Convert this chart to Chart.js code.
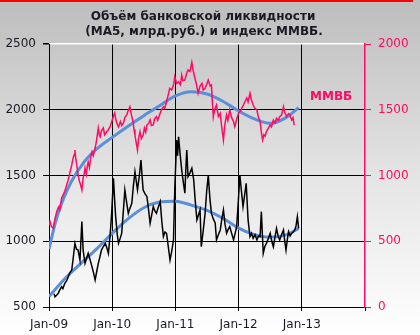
<!DOCTYPE html>
<html>
<head>
<meta charset="utf-8">
<script src="https://cdn.jsdelivr.net/npm/chart.js@4"></script>
<style>
html,body{margin:0;padding:0;background:#fff;}
#wrap{width:420px;height:335px;position:relative;}
</style>
</head>
<body>
<div id="wrap"><canvas id="c" width="420" height="335"></canvas></div>
<script>
// ---- DATA (t = years since Jan-2009) ----
const xTickLabels = ['Jan-09','Jan-10','Jan-11','Jan-12','Jan-13'];
const titleLines = ['Объём банковской ликвидности','(MA5, млрд.руб.) и индекс ММВБ.'];
const seriesLabel = 'ММВБ';

const micexT = [0.00,0.016,0.04,0.068,0.09,0.11,0.122,0.15,0.17,0.20,0.22,0.25,0.28,0.30,0.33,0.36,0.38,0.40,0.41,0.425,0.44,0.46,0.48,0.50,0.52,0.54,0.56,0.57,0.59,0.61,0.62,0.64,0.66,0.68,0.70,0.73,0.75,0.78,0.80,0.81,0.83,0.86,0.88,0.91,0.94,0.965,1.00,1.02,1.04,1.06,1.08,1.10,1.13,1.15,1.18,1.20,1.23,1.25,1.28,1.30,1.33,1.345,1.36,1.38,1.40,1.42,1.44,1.46,1.49,1.51,1.53,1.55,1.58,1.60,1.62,1.65,1.67,1.70,1.72,1.76,1.78,1.81,1.83,1.86,1.88,1.91,1.94,1.97,1.99,2.02,2.05,2.08,2.10,2.12,2.15,2.18,2.20,2.23,2.26,2.28,2.31,2.33,2.36,2.39,2.42,2.44,2.47,2.50,2.52,2.55,2.57,2.585,2.60,2.62,2.65,2.68,2.71,2.73,2.76,2.78,2.81,2.83,2.86,2.89,2.92,2.94,2.97,3.00,3.03,3.05,3.08,3.10,3.13,3.15,3.18,3.20,3.23,3.26,3.29,3.31,3.34,3.36,3.38,3.40,3.42,3.44,3.47,3.50,3.52,3.55,3.58,3.60,3.63,3.65,3.68,3.71,3.73,3.76,3.79,3.81,3.84,3.86,3.88];
const micexV = [620,649,610,600,660,700,725,760,740,829,850,880,928,960,1020,1080,1130,1160,1194,1120,1080,1004,960,930,890,980,1020,1057,1010,1080,1103,1060,1140,1179,1150,1209,1260,1361,1300,1293,1340,1361,1310,1331,1350,1369,1420,1450,1475,1420,1390,1369,1410,1380,1399,1440,1460,1490,1523,1470,1409,1350,1308,1250,1194,1290,1333,1280,1308,1360,1330,1384,1400,1422,1380,1384,1430,1447,1420,1475,1500,1523,1510,1561,1600,1663,1650,1688,1751,1700,1713,1690,1764,1720,1726,1780,1802,1790,1861,1800,1739,1700,1625,1680,1701,1650,1663,1700,1726,1680,1688,1560,1447,1500,1536,1450,1473,1380,1270,1380,1460,1420,1498,1440,1409,1371,1430,1473,1490,1511,1540,1561,1590,1560,1625,1580,1536,1510,1498,1450,1409,1330,1270,1310,1300,1333,1360,1384,1370,1422,1400,1435,1420,1447,1460,1523,1480,1447,1470,1460,1422,1440,1384];

const liqT = [0.08,0.095,0.12,0.147,0.17,0.20,0.22,0.25,0.28,0.305,0.33,0.36,0.385,0.41,0.435,0.46,0.49,0.52,0.54,0.57,0.595,0.62,0.65,0.68,0.705,0.73,0.755,0.78,0.805,0.83,0.86,0.89,0.915,0.94,0.965,0.99,1.02,1.04,1.055,1.08,1.10,1.125,1.15,1.175,1.20,1.23,1.255,1.28,1.31,1.335,1.36,1.38,1.40,1.43,1.455,1.475,1.49,1.52,1.55,1.575,1.60,1.625,1.65,1.675,1.70,1.73,1.76,1.785,1.81,1.835,1.86,1.89,1.915,1.94,1.97,1.99,2.02,2.035,2.05,2.075,2.10,2.125,2.15,2.165,2.18,2.20,2.23,2.26,2.29,2.315,2.34,2.365,2.39,2.41,2.44,2.47,2.495,2.52,2.545,2.57,2.60,2.63,2.65,2.68,2.71,2.735,2.76,2.785,2.81,2.835,2.86,2.89,2.92,2.945,2.97,2.995,3.02,3.045,3.07,3.095,3.12,3.15,3.18,3.205,3.23,3.26,3.29,3.315,3.34,3.36,3.39,3.415,3.44,3.47,3.50,3.525,3.55,3.575,3.60,3.625,3.65,3.68,3.71,3.73,3.75,3.77,3.79,3.815,3.84,3.865,3.89,3.91,3.93,3.95];
const liqV = [600,578,590,604,630,654,640,680,700,730,760,781,880,984,940,933,857,1149,933,832,870,908,860,806,760,705,770,832,880,933,960,984,950,908,1035,1200,1479,1300,1187,1050,984,1020,1060,1220,1390,1290,1212,1250,1289,1420,1529,1460,1390,1500,1618,1480,1390,1360,1339,1240,1137,1200,1263,1230,1212,1260,1301,1150,1035,1070,1060,950,857,920,1010,1400,1770,1650,1795,1660,1542,1450,1365,1550,1694,1491,1520,1555,1466,1300,1162,1200,1238,958,1080,1212,1380,1504,1330,1212,1170,1137,1010,1050,1086,1170,1238,1130,1060,1090,1111,1060,1010,1060,1111,1300,1504,1380,1263,1350,1441,1162,1035,1060,1022,1050,1010,1040,1035,1225,908,960,984,1020,1060,1000,958,1030,1098,1040,1010,1050,1086,1000,933,1010,1073,1040,1060,1070,1086,1120,1187,1098];

const micexTrendT = [0.0,0.1,0.2,0.35,0.55,0.75,1.0,1.25,1.5,1.75,2.0,2.25,2.5,2.75,3.0,3.25,3.5,3.75,3.95];
const micexTrendV = [440,640,790,950,1100,1200,1290,1375,1455,1530,1605,1637,1620,1565,1490,1430,1397,1440,1516];

const liqTrendT = [0.0,0.25,0.5,0.75,1.0,1.25,1.5,1.75,2.0,2.25,2.5,2.75,3.0,3.25,3.5,3.75,3.95];
const liqTrendV = [580,715,830,940,1060,1170,1255,1298,1305,1275,1235,1175,1100,1050,1030,1048,1098];

// ---- helpers ----
const pts = (ts, vs) => ts.map((t, i) => ({x: t, y: vs[i]}));
const FONT = 'DejaVu Sans';
const PINK = '#ff0a64';
const BLUE = '#5b8fd9';
const TXT = '#1a1a24';

const bgPlugin = {
  id: 'bg',
  beforeDraw(chart) {
    const ctx = chart.ctx;
    const g = ctx.createLinearGradient(0, 0, 0, chart.height);
    g.addColorStop(0, '#bdbdbd');
    g.addColorStop(0.55, '#e6e6e6');
    g.addColorStop(1, '#ffffff');
    ctx.save();
    ctx.fillStyle = g;
    ctx.fillRect(0, 0, chart.width, chart.height);
    ctx.strokeStyle = '#ff0000';
    ctx.lineWidth = 2;
    ctx.beginPath();
    ctx.moveTo(0, 1);
    ctx.lineTo(413, 1);
    ctx.stroke();
    ctx.restore();
  },
  afterDraw(chart) {
    const ctx = chart.ctx;
    ctx.save();
    ctx.fillStyle = TXT;
    ctx.font = 'bold 12px "' + FONT + '"';
    ctx.textAlign = 'center';
    ctx.textBaseline = 'middle';
    ctx.fillText(titleLines[0], 203, 17);
    ctx.fillText(titleLines[1], 204, 32);
    ctx.fillStyle = PINK;
    ctx.textAlign = 'left';
    ctx.fillText(seriesLabel, 310, 97);
    ctx.restore();
  }
};

new Chart(document.getElementById('c'), {
  type: 'line',
  data: {
    datasets: [
      {data: pts(micexT, micexV), yAxisID: 'y2', borderColor: PINK, borderWidth: 1.5, pointRadius: 0, tension: 0},
      {data: pts(liqT, liqV), yAxisID: 'y', borderColor: '#000000', borderWidth: 1.5, pointRadius: 0, tension: 0},
      {data: pts(micexTrendT, micexTrendV), yAxisID: 'y2', borderColor: BLUE, borderWidth: 3, pointRadius: 0, tension: 0.4, cubicInterpolationMode: 'monotone'},
      {data: pts(liqTrendT, liqTrendV), yAxisID: 'y', borderColor: BLUE, borderWidth: 3, pointRadius: 0, tension: 0.4, cubicInterpolationMode: 'monotone'}
    ]
  },
  options: {
    responsive: false,
    animation: false,
    layout: {padding: {top: 44, left: 0, right: 0, bottom: 0}},
    plugins: {legend: {display: false}, tooltip: {enabled: false}, title: {display: false}},
    scales: {
      x: {
        type: 'linear', min: 0, max: 5,
        afterFit(s) { s.height = 28; },
        ticks: {stepSize: 1, padding: 7, color: TXT, font: {family: FONT, size: 12}, maxRotation: 0,
          callback: v => xTickLabels[v] !== undefined ? xTickLabels[v] : ''},
        grid: {color: c => (c.tick && c.tick.value === 5) ? 'rgba(0,0,0,0)' : '#000000', lineWidth: 1, tickLength: 4, tickColor: '#000000'},
        border: {color: '#000000', width: 1}
      },
      y: {
        position: 'left', min: 500, max: 2500,
        afterFit(s) { s.width = 49; },
        ticks: {stepSize: 500, padding: 7, color: TXT, font: {family: FONT, size: 12}, callback: v => String(v)},
        grid: {color: c => (c.tick && c.tick.value === 2500) ? '#ffffff' : '#000000', lineWidth: c => (c.tick && c.tick.value === 2500) ? 1.5 : 1, tickLength: 6, tickColor: '#000000'},
        border: {color: '#000000', width: 1}
      },
      y2: {
        position: 'right', min: 0, max: 2000,
        afterFit(s) { s.width = 55; },
        ticks: {stepSize: 500, padding: 7, color: PINK, font: {family: FONT, size: 12}, callback: v => String(v)},
        grid: {drawOnChartArea: false, color: PINK, tickLength: 6},
        border: {color: PINK, width: 1.5}
      }
    }
  },
  plugins: [bgPlugin]
});
</script>
</body>
</html>
